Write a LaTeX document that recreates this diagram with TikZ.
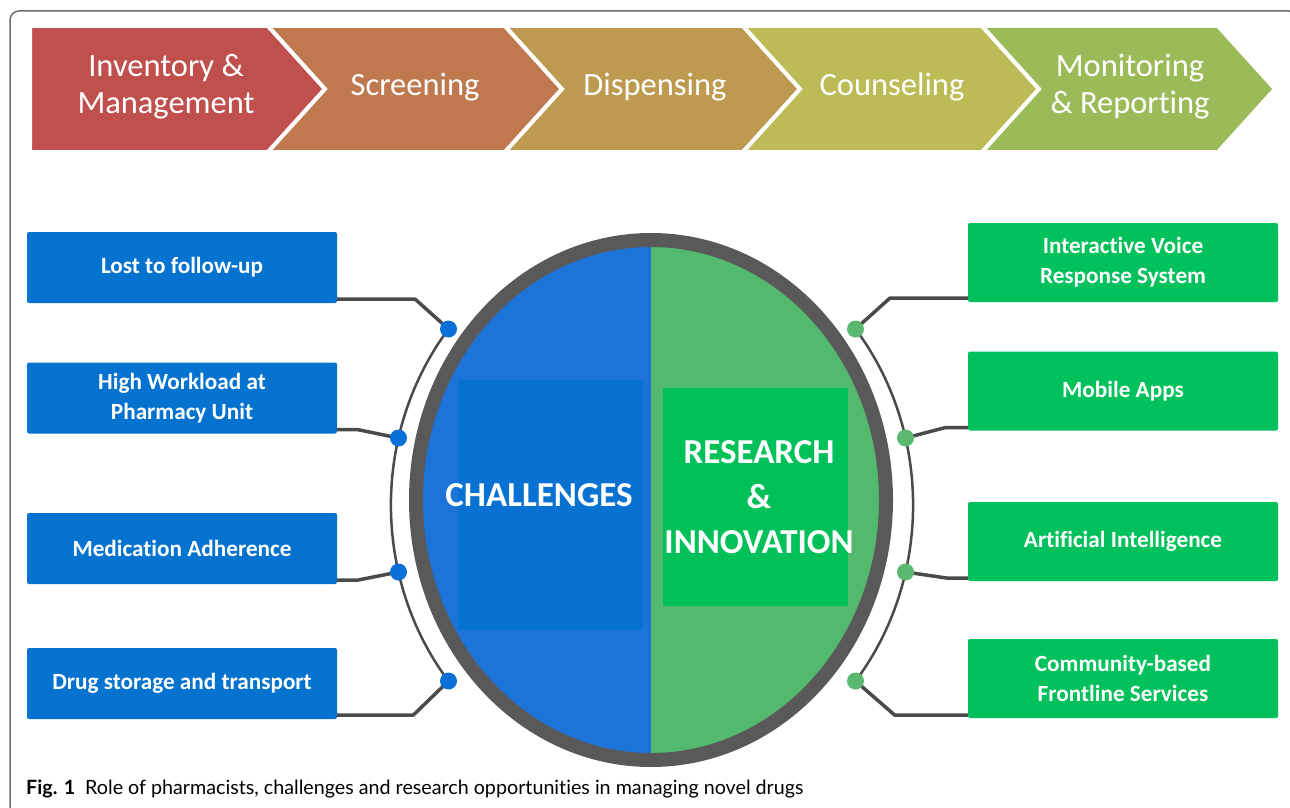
\documentclass[tikz,border=0pt]{standalone}
\usepackage{fontspec}
\setmainfont{Carlito}[Ligatures=NoCommon]
\newfontfamily\capfont{Lato}[Ligatures=NoCommon]
\usetikzlibrary{positioning}
\definecolor{chevA}{HTML}{C0504D}
\definecolor{chevB}{HTML}{C0784F}
\definecolor{chevC}{HTML}{BD9A50}
\definecolor{chevD}{HTML}{BCBB55}
\definecolor{chevE}{HTML}{9BBB59}
\definecolor{chalblue}{HTML}{0473D0}
\definecolor{innovgreen}{HTML}{00C15B}
\definecolor{dotblue}{HTML}{0A6FD6}
\definecolor{dotgreen}{HTML}{5BB870}
\definecolor{halfblue}{HTML}{1C74D8}
\definecolor{innerblue}{HTML}{0872D2}
\definecolor{halfgreen}{HTML}{52B96F}
\definecolor{innergreen}{HTML}{00C05A}
\definecolor{ringgray}{HTML}{595959}
\definecolor{wiregray}{HTML}{4A4A4A}
\definecolor{framegray}{HTML}{6E6E6E}
\tikzstyle{stage} = [text=white, align=center, font=\fontsize{32.5}{37}\selectfont]
\tikzstyle{chal} = [rectangle, rounded corners=2pt, fill=chalblue, text=white, minimum width=310pt, minimum height=71pt, align=center, font=\bfseries\fontsize{23.2}{30}\selectfont]
\tikzstyle{innov} = [chal, fill=innovgreen, minimum height=79pt]
\tikzstyle{core} = [text=white, align=center, font=\bfseries\fontsize{35}{45}\selectfont]
\tikzstyle{bdot} = [circle, fill=dotblue, minimum size=17pt, inner sep=0pt]
\tikzstyle{gdot} = [bdot, fill=dotgreen]
\tikzstyle{wire} = [draw=wiregray, line width=3.5pt, line join=round]

\begin{document}
\begin{tikzpicture}[x=1pt, y=-1pt]

	\useasboundingbox (0,0) rectangle (1290,808);
	\clip (0,0) rectangle (1290,808);
	\draw [framegray, line width=1.5pt, rounded corners=9pt] (10,11) rectangle (1298,820);

	\foreach \l/\r/\d/\col in {30/268/0/chevA, 268/505/57/chevB, 505/743/57/chevC, 743/982/57/chevD, 982/1218/57/chevE}
		\filldraw [fill=\col, draw=white, line width=4pt, line join=miter] (\l,26) -- (\r,26) -- (\r+57,89) -- (\r,152) -- (\l,152) -- (\l+\d,89) -- cycle;

	\node (inv) [stage] at (166,87) {Inventory \&\\ Management};
	\node (scr) [stage] at (415,87) {Screening};
	\node (dis) [stage] at (655,87) {Dispensing};
	\node (cou) [stage] at (892,87) {Counseling};
	\node (mon) [stage] at (1130,87) {Monitoring\\ \& Reporting};

	\begin{scope}
		\clip (651,500) ellipse [x radius=235pt, y radius=260pt];
		\fill [halfblue] (400,220) rectangle (651,790);
		\fill [halfgreen] (651,220) rectangle (910,790);
		\fill [innerblue] (458,380) rectangle (643,630);
	\end{scope}
	\draw [ringgray, line width=14pt] (651,500) ellipse [x radius=235pt, y radius=260pt];
	\node (res) [core, fill=innergreen, minimum width=185pt, minimum height=218pt] at (755.5,497) {};
	\node (rtx) [core] at (759,497) {RESEARCH\\ \&\\ INNOVATION};
	\node (cha) [core] at (539,495) {CHALLENGES};

	\node (lost) [chal] at (182,267.5) {Lost to follow-up};
	\node (work) [chal] at (182,398) {High Workload at\\ Pharmacy Unit};
	\node (adh) [chal] at (182,548.5) {Medication Adherence};
	\node (stor) [chal] at (182,683.5) {Drug storage and transport};

	\node (ivr) [innov] at (1123,262.5) {Interactive Voice\\ Response System};
	\node (app) [innov] at (1123,391) {Mobile Apps};
	\node (ai) [innov] at (1123,541.5) {Artificial Intelligence};
	\node (cbf) [innov] at (1123,678.5) {Community-based\\ Frontline Services};

	\coordinate (p1) at (448.5,329);
	\coordinate (p2) at (398.5,438);
	\coordinate (p3) at (398.5,572);
	\coordinate (p4) at (448.5,681);
	\coordinate (q1) at (855.5,329);
	\coordinate (q2) at (905.5,438);
	\coordinate (q3) at (905.5,572);
	\coordinate (q4) at (855.5,681);

	\draw [wiregray, line width=2.5pt] (p1) arc [start angle=141.2, end angle=218.8, x radius=261pt, y radius=281pt];
	\draw [wiregray, line width=2.5pt] (q1) arc [start angle=38.8, end angle=-38.8, x radius=261pt, y radius=281pt];

	\draw [wire] ([yshift=4pt]lost.south east) -- ++(78,0) -- (p1);
	\draw [wire] ([yshift=4pt]work.south east) -- ++(21,0) -- (p2);
	\draw [wire] ([yshift=4pt]adh.south east) -- ++(20,0) -- (p3);
	\draw [wire] ([yshift=4pt]stor.south east) -- ++(76,0) -- (p4);
	\draw [wire] ([yshift=4pt]ivr.south west) -- ++(-78,0) -- (q1);
	\draw [wire] ([yshift=3pt]app.south west) -- ++(-23,0) -- (q2);
	\draw [wire] ([yshift=3pt]ai.south west) -- ++(-20,0) -- (q3);
	\draw [wire] ([yshift=3pt]cbf.south west) -- ++(-73,0) -- (q4);

	\node (b1) [bdot] at (p1) {};
	\node (b2) [bdot] at (p2) {};
	\node (b3) [bdot] at (p3) {};
	\node (b4) [bdot] at (p4) {};
	\node (g1) [gdot] at (q1) {};
	\node (g2) [gdot] at (q2) {};
	\node (g3) [gdot] at (q3) {};
	\node (g4) [gdot] at (q4) {};

	\node (cap) [anchor=base west, inner sep=0pt, font=\capfont\fontsize{19.7}{22}\selectfont] at (26,794) {\textbf{Fig. 1}\hspace{10pt}Role of pharmacists, challenges and research opportunities in managing novel drugs};

\end{tikzpicture}
\end{document}
